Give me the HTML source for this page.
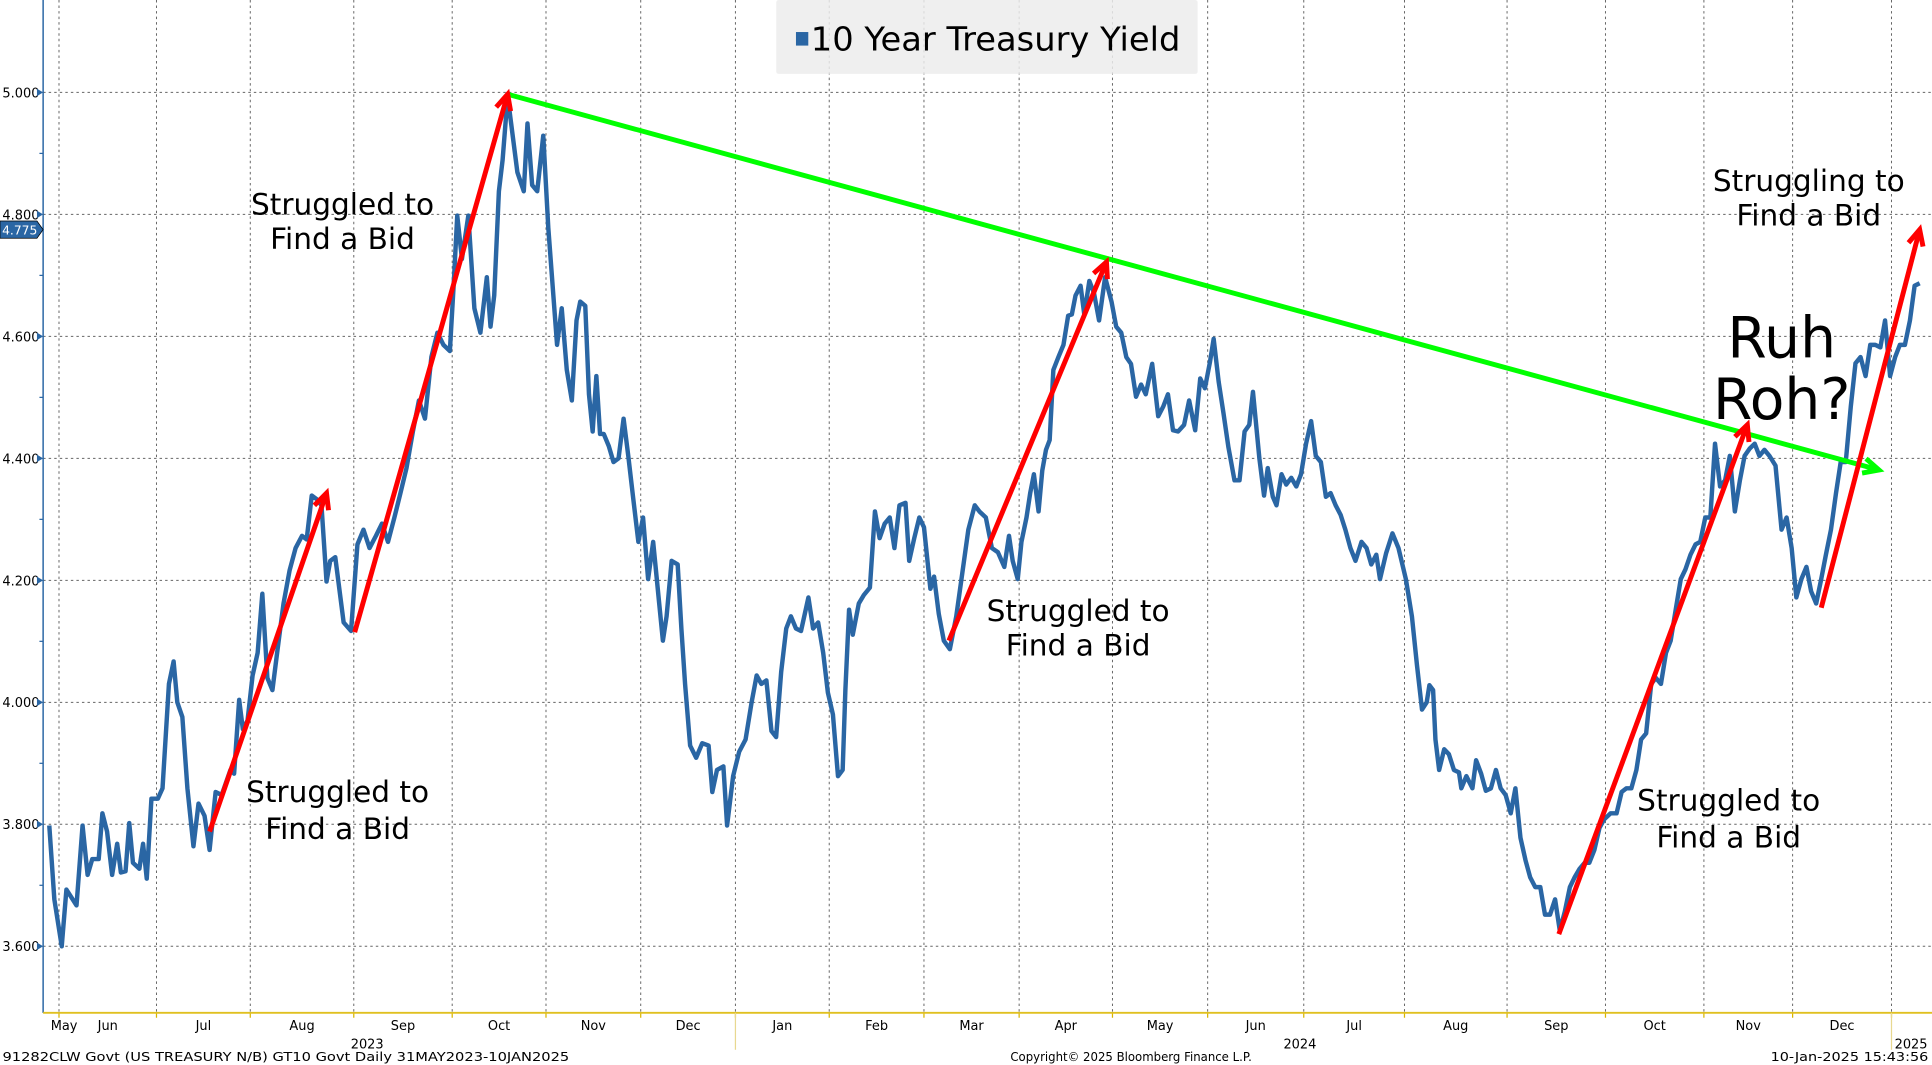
<!DOCTYPE html>
<html><head><meta charset="utf-8"><title>10 Year Treasury Yield</title>
<style>
html,body{margin:0;padding:0;background:#fff;}
svg{display:block;font-family:"DejaVu Sans","Liberation Sans",sans-serif;}
</style></head>
<body>
<svg id="chart" width="1932" height="1065" viewBox="0 0 1568 864.35" xmlns="http://www.w3.org/2000/svg">
<rect x="0" y="0" width="1568" height="865" fill="#fff"/>
<g id="grid"></g>
<g id="legend">
<rect x="630" y="0" width="342" height="60" rx="2" fill="#ececec" fill-opacity="0.85"/>
<rect x="646" y="26" width="10" height="11" fill="#2a66a4"/>
<text x="658" y="41" font-size="27" textLength="300" lengthAdjust="spacingAndGlyphs" fill="#000">10 Year Treasury Yield</text>
</g>
<g id="axes"></g>
<g id="series"></g>
<g id="annot"></g>
<g id="footer" font-size="10" fill="#000">
<text x="2" y="861" textLength="460" lengthAdjust="spacingAndGlyphs">91282CLW Govt (US TREASURY N/B) GT10  Govt  Daily 31MAY2023-10JAN2025</text>
<text x="820" y="861" textLength="196" lengthAdjust="spacingAndGlyphs">Copyright© 2025 Bloomberg Finance L.P.</text>
<text x="1437" y="861" textLength="128" lengthAdjust="spacingAndGlyphs">10-Jan-2025 15:43:56</text>
</g>
</svg>
<script>
const days = [0,1.1,2.7,3.7,5.9,7.2,8.3,9.3,10.7,11.5,12.5,13.6,14.7,15.5,16.5,17.3,18.1,19.5,20.3,21.1,22.1,23.5,24.5,25.9,26.9,27.7,28.8,29.9,31.2,32.3,33.6,34.7,36,37.3,39.2,40,41.1,41.9,42.9,44,45.1,46.1,47.2,48.3,49.3,50.7,52,53.3,54.7,55.7,56.8,57.9,58.9,60,60.8,61.9,63.7,65.3,66.7,68,69.3,70.7,72,73.3,74.7,76,77.3,78.7,80,81.3,82.7,84,85.3,86.7,87.5,88.3,89.3,90.7,92,93.3,94.7,95.5,96.3,97.3,98.1,99.2,100.3,101.3,102.7,103.5,104.5,105.6,106.9,108,109.1,109.9,110.9,112,113.1,114.1,114.9,116,116.8,117.6,118.4,119.2,120,121.1,122.1,123.2,124.3,125.3,126.4,127.5,128.5,129.6,130.7,132,132.8,133.6,134.7,136,136.8,137.6,138.7,140,141.3,142.7,143.5,144.5,145.9,146.7,148,149.3,150.7,152,153.1,154.1,155.2,156.3,157.3,158.4,159.5,160.5,161.6,162.7,164.3,165.3,166.4,167.5,168.5,169.6,170.7,171.7,172.3,173.1,173.9,175.2,176.3,177.6,178.7,179.7,180.8,181.9,182.9,184,185.3,186.1,187.2,188.3,189.3,190.7,191.5,192.5,193.6,194.9,196.3,197.6,198.9,200.3,201.3,202.7,204,205.3,206.7,207.7,208.5,209.6,210.4,211.5,212.3,213.1,214.1,214.9,215.7,216.5,217.3,218.4,219.5,220.5,221.3,222.1,223.2,224,225.1,226.1,227.2,228.5,229.9,230.9,232,233.1,234.1,235.2,236.3,237.3,238.7,240,241.1,242.1,243.2,244.3,245.6,246.7,248,249.1,250.1,251.2,252,253.1,254.1,255.2,256.5,257.6,258.7,259.7,260.5,261.9,262.9,263.7,264.8,265.6,266.7,267.7,268.8,269.9,270.9,272,273.1,274.1,275.2,276.3,277.3,278.4,279.5,280.5,281.6,282.7,284,285.1,286.1,287.2,288,289.3,290.7,292,293.6,294.9,296,297.1,298.1,298.7,299.5,300,300.8,301.9,302.9,304,305.1,305.6,306.7,308,308.8,309.9,310.9,312,313.1,314.1,315.2,316.3,317.3,318.4,319.5,320.5,321.6,322.7,323.7,324.8,325.9,326.9,328,329.1,330.1,331.2,332.3,333.3,334.4,335.5,336.5,337.9,339.2,340.3,341.3,342.4,343.5,344.5,345.6,346.7,347.7,348.8,349.9,350.9,352,353.1,354.1,355.2,356.3,357.3,358.4,359.5,360.5,361.6,362.7,363.7,364.8,365.9,366.9,368,369.1,370.1,371.2,372.3,373.6,374.9,376,377.1,378.1,379.2,380.3,381.3,382.4,383.5,384.5,385.6,386.7,387.7,388.8,389.9,390.9,392,393.1,394.1,395.2,396.3,397.3,398.4,399.5,400.5,401.6,402.7,403.7,404.8];
const yields = [3.798,3.677,3.600,3.693,3.667,3.798,3.717,3.743,3.743,3.818,3.788,3.717,3.768,3.721,3.723,3.802,3.737,3.727,3.768,3.711,3.842,3.842,3.859,4.030,4.067,4.000,3.976,3.859,3.764,3.834,3.814,3.758,3.853,3.848,3.889,3.883,4.004,3.956,3.970,4.044,4.081,4.178,4.040,4.020,4.081,4.162,4.216,4.253,4.273,4.267,4.339,4.333,4.323,4.198,4.232,4.238,4.131,4.117,4.259,4.283,4.253,4.273,4.293,4.263,4.303,4.343,4.384,4.444,4.495,4.465,4.566,4.606,4.586,4.576,4.681,4.798,4.727,4.798,4.646,4.606,4.697,4.616,4.667,4.838,4.889,4.994,4.929,4.869,4.838,4.949,4.848,4.838,4.929,4.778,4.667,4.586,4.646,4.545,4.495,4.626,4.657,4.650,4.505,4.444,4.535,4.440,4.440,4.420,4.394,4.400,4.465,4.404,4.333,4.263,4.303,4.202,4.263,4.162,4.101,4.141,4.232,4.226,4.121,4.030,3.929,3.909,3.933,3.929,3.853,3.889,3.895,3.798,3.879,3.919,3.939,4.000,4.044,4.030,4.036,3.953,3.943,4.050,4.121,4.141,4.121,4.117,4.172,4.121,4.131,4.081,4.016,3.980,3.879,3.889,4.020,4.152,4.111,4.162,4.176,4.188,4.313,4.269,4.293,4.303,4.253,4.323,4.327,4.232,4.269,4.303,4.287,4.186,4.206,4.145,4.101,4.087,4.141,4.212,4.283,4.323,4.313,4.303,4.253,4.246,4.222,4.273,4.232,4.202,4.263,4.303,4.343,4.374,4.313,4.380,4.414,4.430,4.545,4.566,4.586,4.634,4.636,4.667,4.683,4.636,4.691,4.671,4.626,4.697,4.657,4.616,4.606,4.566,4.555,4.501,4.521,4.505,4.555,4.469,4.485,4.505,4.446,4.444,4.455,4.495,4.446,4.531,4.515,4.558,4.596,4.525,4.475,4.418,4.364,4.364,4.444,4.455,4.509,4.400,4.339,4.384,4.337,4.323,4.374,4.357,4.368,4.354,4.374,4.424,4.461,4.404,4.394,4.337,4.343,4.323,4.307,4.283,4.253,4.232,4.263,4.253,4.226,4.242,4.202,4.244,4.277,4.253,4.202,4.141,4.061,3.988,4.000,4.028,4.020,3.939,3.889,3.923,3.915,3.889,3.885,3.859,3.879,3.859,3.905,3.883,3.855,3.859,3.889,3.859,3.848,3.818,3.859,3.778,3.741,3.713,3.697,3.697,3.652,3.652,3.677,3.626,3.657,3.697,3.713,3.727,3.737,3.737,3.758,3.794,3.808,3.818,3.818,3.853,3.859,3.859,3.889,3.939,3.949,4.030,4.040,4.030,4.081,4.101,4.152,4.202,4.218,4.242,4.259,4.263,4.303,4.303,4.424,4.354,4.364,4.404,4.313,4.364,4.404,4.416,4.424,4.404,4.414,4.404,4.388,4.283,4.303,4.253,4.172,4.202,4.222,4.182,4.162,4.202,4.242,4.283,4.343,4.394,4.394,4.485,4.556,4.566,4.535,4.586,4.586,4.582,4.626,4.535,4.566,4.586,4.586,4.626,4.683,4.687];
const yTicks = [3.6,3.8,4.0,4.2,4.4,4.6,4.8,5.0];
const yTickLabels = ["3.600","3.800","4.000","4.200","4.400","4.600","4.800","5.000"];
const monthBounds = [2.1,23.2,43.5,65.9,87.2,107.5,128,148.5,168.8,189.3,209.9,230.1,250.7,271.5,293.3,315.5,336.8,358.1,377.3,398.7];
const monthLabels = ["Jun","Jul","Aug","Sep","Oct","Nov","Dec","Jan","Feb","Mar","Apr","May","Jun","Jul","Aug","Sep","Oct","Nov","Dec"];
const lastValue = 4.775;
// annotation arrows: [startDay, startYield, endDay, endYield]
const redArrows = [[34.7,3.788,60,4.343],[66.1,4.115,99.2,4.997],[194.7,4.101,228.8,4.722],[326.7,3.620,367.5,4.455],[383.5,4.155,404.8,4.775]];
const greenArrow = [99.2,4.997,396,4.381];

const NS="http://www.w3.org/2000/svg";
const X0=40, DX=3.75, PLOT_L=35, PLOT_R=1568, AXIS_Y=822;
function xs(d){return X0+d*DX;}
function ys(v){return 75+(5-v)*495;}
function mk(tag,attrs,parent){const e=document.createElementNS(NS,tag);for(const k in attrs)e.setAttribute(k,attrs[k]);parent.appendChild(e);return e;}
const grid=document.getElementById('grid'), axes=document.getElementById('axes'), series=document.getElementById('series'), annot=document.getElementById('annot');

yTicks.forEach((v,i)=>{
  const gl=mk('line',{x1:PLOT_L,x2:PLOT_R,y1:ys(v),y2:ys(v),stroke:'#666','stroke-width':0.8,'stroke-dasharray':'2,2.5'},grid);
  
  
  const t=mk('text',{x:32,y:ys(v)+4,'text-anchor':'end','font-size':10.5,fill:'#000'},axes);
  t.textContent=yTickLabels[i];
  
  
  const tk=mk('path',{d:`M${PLOT_L} ${ys(v)} l-5 -3 v6 z`,fill:'#2a66a4'},axes);
  
  
  if(i<yTicks.length-1){
    const mt=mk('line',{x1:PLOT_L-3,x2:PLOT_L,y1:ys(v+0.1),y2:ys(v+0.1),stroke:'#2a66a4','stroke-width':1},axes);
    
    
  }
});
monthBounds.forEach(d=>{
  const gl=mk('line',{x1:xs(d),x2:xs(d),y1:0,y2:AXIS_Y,stroke:'#666','stroke-width':0.8,'stroke-dasharray':'2,2.5'},grid);
  
  
  const tk=mk('line',{x1:xs(d),x2:xs(d),y1:AXIS_Y,y2:AXIS_Y+4,stroke:'#d8b400','stroke-width':1},axes);
  
  
});
const yAxis=mk('line',{x1:PLOT_L,x2:PLOT_L,y1:0,y2:AXIS_Y,stroke:'#2a66a4','stroke-width':1.2},axes);


const xAxis=mk('line',{x1:PLOT_L,x2:PLOT_R,y1:AXIS_Y,y2:AXIS_Y,stroke:'#e0c020','stroke-width':1.5},axes);


const may=mk('text',{x:52,y:836,'text-anchor':'middle','font-size':10.5},axes);
may.textContent='May';


monthLabels.forEach((m,i)=>{
  const t=mk('text',{x:(xs(monthBounds[i])+xs(monthBounds[i+1]))/2,y:836,'text-anchor':'middle','font-size':10.5},axes);
  t.textContent=m;
  
  
});
[[298,'2023'],[1055,'2024'],[1551,'2025']].forEach(([x,s])=>{
  const t=mk('text',{x:x,y:851,'text-anchor':'middle','font-size':10.5},axes);
  t.textContent=s;
  
  
});
[148.5,398.7].forEach(d=>{
  const l=mk('line',{x1:xs(d),x2:xs(d),y1:AXIS_Y,y2:852,stroke:'#e8d890','stroke-width':1},axes);
  
  
});
let dstr='';
const n=Math.min(days.length,yields.length);
for(let i=0;i<n;i++){dstr+=(i?'L':'M')+xs(days[i]).toFixed(1)+' '+ys(yields[i]).toFixed(1);}
const line=mk('path',{d:dstr,fill:'none',stroke:'#2a66a4','stroke-width':3.6,'stroke-linejoin':'round'},series);


const by=ys(lastValue);
const badge=mk('path',{d:`M0 ${by-7} H30 L35 ${by} L30 ${by+7} H0 Z`,fill:'#2a66a4',stroke:'#000','stroke-width':0.6},axes);


const bt=mk('text',{x:16,y:by+4,'text-anchor':'middle','font-size':10,fill:'#fff'},axes);
bt.textContent=lastValue.toFixed(3);


function arrow(a,color,name){
  const x1=xs(a[0]),y1=ys(a[1]),x2=xs(a[2]),y2=ys(a[3]);
  const ang=Math.atan2(y2-y1,x2-x1), L=14, w=0.45;
  const g=mk('g',{},annot);
  
  
  mk('line',{x1:x1,y1:y1,x2:x2,y2:y2,stroke:color,'stroke-width':4,'stroke-linecap':'butt'},g);
  const hx1=x2-L*Math.cos(ang-w),hy1=y2-L*Math.sin(ang-w),hx2=x2-L*Math.cos(ang+w),hy2=y2-L*Math.sin(ang+w);
  mk('path',{d:`M${hx1} ${hy1} L${x2} ${y2} L${hx2} ${hy2}`,fill:'none',stroke:color,'stroke-width':4,'stroke-linejoin':'miter'},g);
}
arrow(greenArrow,'#00ff00','trend-arrow');
redArrows.forEach(a=>arrow(a,'#ff0000','rally-arrow'));
function label(lines,cx,y0,size,gap,name){
  const t=mk('text',{x:cx,y:y0,'text-anchor':'middle','font-size':size,fill:'#000'},annot);
  
  
  lines.forEach((s,i)=>{const sp=mk('tspan',{x:cx,dy:i?gap:0},t);sp.textContent=s;});
}
label(['Struggled to','Find a Bid'],278,174,24,28,'annotation-aug-2023');
label(['Struggled to','Find a Bid'],274,651,24,30,'annotation-jul-2023');
label(['Struggled to','Find a Bid'],875,504,24,28,'annotation-mar-2024');
label(['Struggled to','Find a Bid'],1403,658,24,30,'annotation-oct-2024');
label(['Struggling to','Find a Bid'],1468,155,24,28,'annotation-jan-2025');
label(['Ruh','Roh?'],1446,290,46,50,'annotation-ruh-roh');
</script>
</body></html>
